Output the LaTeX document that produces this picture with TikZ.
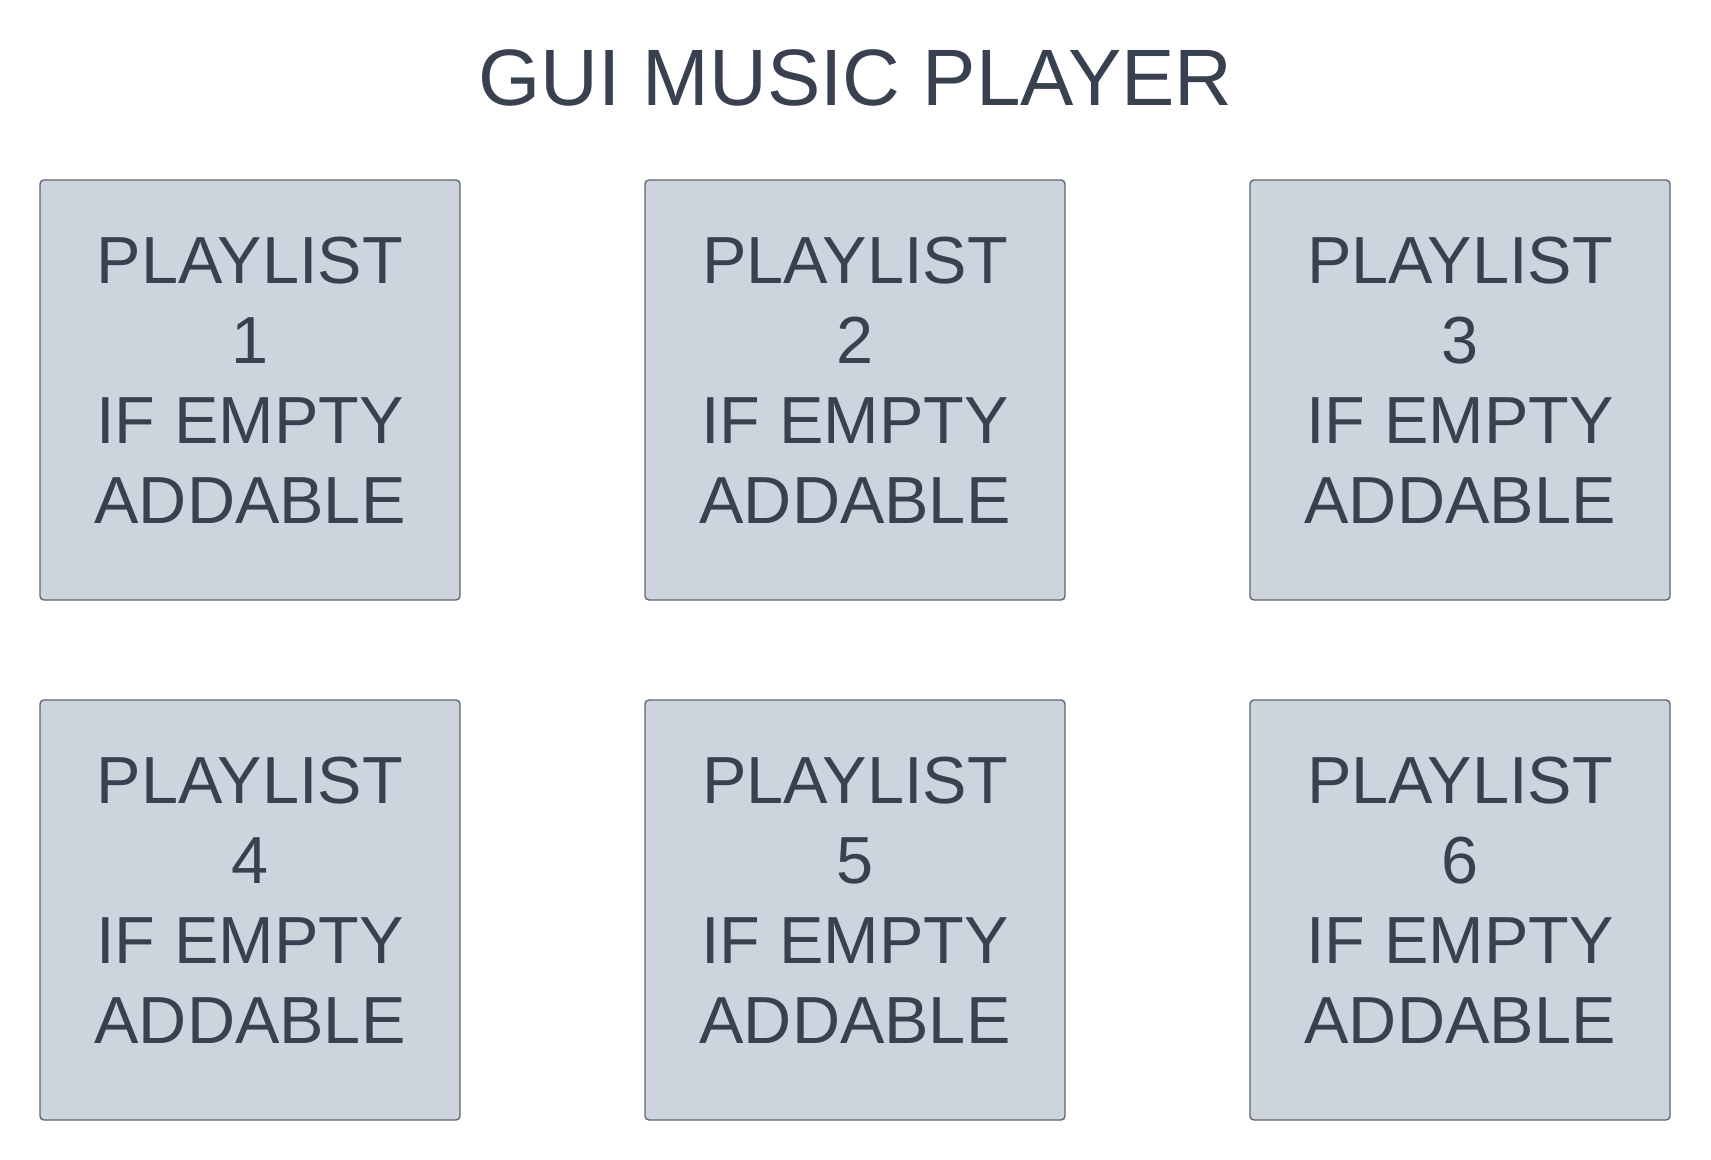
\documentclass[tikz,border=0pt]{standalone}
\usepackage{fontspec}
\setmainfont{Liberation Sans}
\usepackage{tikz}
\usetikzlibrary{positioning}
\usepackage{xcolor}
\definecolor{inkgray}{HTML}{394150}
\definecolor{boxfill}{HTML}{CED4DD}
\definecolor{boxline}{HTML}{5F6670}

\begin{document}
\begin{tikzpicture}[x=0.5pt, y=-0.5pt,
    title/.style={text=inkgray, inner sep=0pt, font=\fontsize{40}{48}\selectfont},
    playlist/.style={draw=boxline, fill=boxfill, line width=0.7pt, rounded corners=2pt,
        minimum width=210pt, minimum height=210pt, inner sep=0pt},
    boxtext/.style={text=inkgray, inner sep=0pt, align=center, font=\fontsize{33.3}{40}\selectfont}]
    % Canvas
    \useasboundingbox (0, 0) rectangle (1711, 1160);
    % Heading
    \node [title, anchor=base] (title) at (855.5, 106) {GUI MUSIC PLAYER};
    % Playlist boxes
    \foreach \n/\cx/\cy in {1/250/390, 2/855/390, 3/1460/390, 4/250/910, 5/855/910, 6/1460/910} {
        \node [playlist] (list\n) at (\cx, \cy) {};
        \node [boxtext] (label\n) at ([yshift=5pt]list\n.center) {PLAYLIST\\\n\\IF EMPTY\\ADDABLE};
    }
\end{tikzpicture}
\end{document}
